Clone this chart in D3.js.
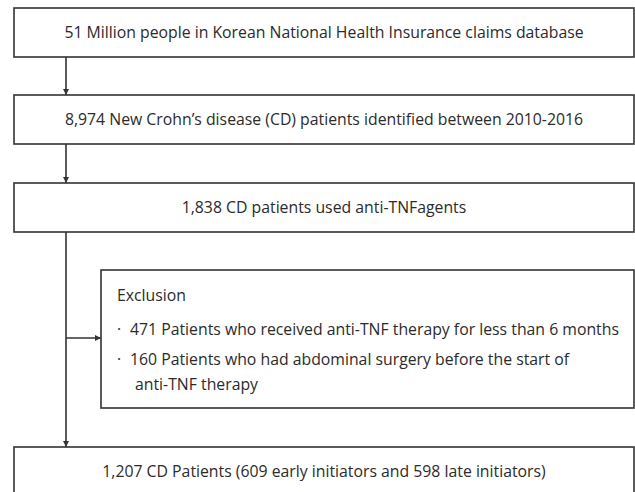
<!DOCTYPE html>
<html>
<head>
<meta charset="utf-8">
<script src="https://cdn.jsdelivr.net/npm/d3@7"></script>
<style>
  body { margin: 0; background: #fff; }
  text { font-family: "Open Sans", Lato, sans-serif; fill: #2b2b2b; }
</style>
</head>
<body>
<div id="flow"></div>
<script>
// flow steps, top to bottom
const stepTexts = [
  "51 Million people in Korean National Health Insurance claims database",
  "8,974 New Crohn\u2019s disease (CD) patients identified between 2010-2016",
  "1,838 CD patients used anti-TNFagents",
  "1,207 CD Patients (609 early initiators and 598 late initiators)"
];
const exclusionTitle = "Exclusion";
const exclusionItems = [
  ["471 Patients who received anti-TNF therapy for less than 6 months"],
  ["160 Patients who had abdominal surgery before the start of", "anti-TNF therapy"]
];

function renderFlow() {
  const width = 635, height = 492;
  const svg = d3.select("#flow").append("svg")
    .attr("width", width)
    .attr("height", height);

  const stroke = "#333";
  const sw = 1.6;
  const fs = 15.8;

  // vertical slots of the main boxes
  const boxTop = [8, 95, 183, 447];
  const boxH = 49;
  const left = 14, right = 634;
  const spineX = 66;

  svg.append("defs").append("marker")
    .attr("id", "arr")
    .attr("viewBox", "0 0 10 10")
    .attr("refX", 10).attr("refY", 5)
    .attr("markerWidth", 7).attr("markerHeight", 6)
    .attr("markerUnits", "userSpaceOnUse")
    .attr("orient", "auto")
    .append("path")
      .attr("d", "M0,0L10,5L0,10z")
      .attr("fill", stroke);

  const g = svg.append("g");

  g.selectAll(".step")
    .data(stepTexts)
    .enter()
    .append("rect")
    .attr("class", "step")
    .attr("x", left)
    .attr("y", (d, i) => boxTop[i])
    .attr("width", right - left)
    .attr("height", boxH)
    .attr("fill", "#fff")
    .attr("stroke", stroke)
    .attr("stroke-width", sw);

  g.selectAll(".stepLbl")
    .data(stepTexts)
    .enter()
    .append("text")
    .attr("class", "stepLbl")
    .attr("x", (left + right) / 2)
    .attr("y", (d, i) => boxTop[i] + 30)
    .attr("text-anchor", "middle")
    .attr("font-size", fs)
    .text(d => d);

  // arrows down the left spine
  for (let i = 0; i < 3; i++) {
    g.append("line")
      .attr("x1", spineX).attr("x2", spineX)
      .attr("y1", boxTop[i] + boxH).attr("y2", boxTop[i + 1])
      .attr("stroke", stroke).attr("stroke-width", sw)
      .attr("marker-end", "url(#arr)");
  }

  // exclusion box
  const ex = {x: 101, y: 270, w: right - 101, h: 138};
  g.append("rect")
    .attr("x", ex.x).attr("y", ex.y)
    .attr("width", ex.w).attr("height", ex.h)
    .attr("fill", "#fff")
    .attr("stroke", stroke).attr("stroke-width", sw);

  g.append("line")
    .attr("x1", spineX).attr("x2", ex.x)
    .attr("y1", 338).attr("y2", 338)
    .attr("stroke", stroke).attr("stroke-width", sw)
    .attr("marker-end", "url(#arr)");

  g.append("text")
    .attr("x", 117).attr("y", 301)
    .attr("font-size", fs)
    .text(exclusionTitle);

  const itemY = [335, 365];
  const items = g.selectAll(".item")
    .data(exclusionItems)
    .enter()
    .append("text")
    .attr("class", "item")
    .attr("font-size", fs);

  items.append("tspan")
    .attr("x", 117)
    .attr("y", (d, i) => itemY[i])
    .text("\u00b7");
  items.append("tspan")
    .attr("x", 130)
    .attr("y", (d, i) => itemY[i])
    .text(d => d[0]);
  items.filter(d => d.length > 1)
    .append("tspan")
    .attr("x", 135)
    .attr("dy", 25)
    .text(d => d[1]);
}

renderFlow();
</script>
</body>
</html>
